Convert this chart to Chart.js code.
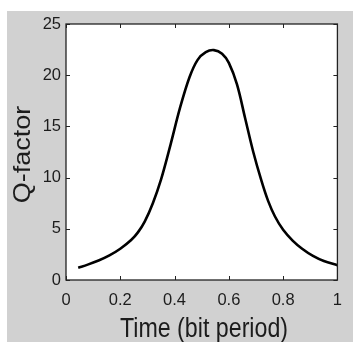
<!DOCTYPE html>
<html>
<head>
<meta charset="utf-8">
<script src="https://cdn.jsdelivr.net/npm/chart.js@4"></script>
<style>
  html, body { margin: 0; padding: 0; background: #fff; }
  #wrap { width: 353px; height: 342px; }
</style>
</head>
<body>
<div id="wrap"><canvas id="myChart" width="353" height="342"></canvas></div>
<script>
// values
const timeValues = [0.045, 0.08, 0.12, 0.16, 0.2, 0.24, 0.265, 0.29, 0.32, 0.35, 0.385, 0.42, 0.455, 0.485,
                    0.515, 0.545, 0.575, 0.6, 0.63, 0.66, 0.69, 0.72, 0.745, 0.77, 0.8, 0.835, 0.87, 0.91, 0.95, 1.0];
const qValues = [1.2, 1.5, 1.9, 2.4, 3.05, 3.9, 4.65, 5.7, 7.5, 9.8, 13.2, 16.8, 19.8, 21.5,
                 22.25, 22.45, 22.1, 21.2, 19.1, 15.8, 12.5, 9.7, 7.7, 6.2, 4.9, 3.85, 3.05, 2.35, 1.85, 1.45];
const xTicks = [0, 0.2, 0.4, 0.6, 0.8, 1];
const yTicks = [0, 5, 10, 15, 20, 25];
const xTitle = 'Time (bit period)';
const yTitle = 'Q-factor';

const figGray = '#d1d1d1';
const ink = '#1c1c1c';

// matlab-like figure: grey panel, white axes box, inward ticks on all sides
const matlabFrame = {
    id: 'matlabFrame',
    beforeDraw(chart) {
        const ctx = chart.ctx;
        const a = chart.chartArea;
        ctx.save();
        ctx.fillStyle = '#fff';
        ctx.fillRect(0, 0, chart.width, chart.height);
        ctx.fillStyle = figGray;
        ctx.fillRect(7, 11, chart.width - 7, chart.height - 11);
        ctx.fillStyle = '#fff';
        ctx.fillRect(a.left, a.top, a.right - a.left, a.bottom - a.top);
        ctx.restore();
    },
    afterDatasetsDraw(chart) {
        const ctx = chart.ctx;
        const a = chart.chartArea;
        const xs = chart.scales.x, ys = chart.scales.y;
        const len = 4;
        ctx.save();
        ctx.strokeStyle = '#222';
        ctx.lineWidth = 1.3;
        ctx.strokeRect(a.left, a.top, a.right - a.left, a.bottom - a.top);
        ctx.lineWidth = 1;
        ctx.beginPath();
        xTicks.forEach(v => {
            const px = Math.round(xs.getPixelForValue(v)) + 0.5;
            ctx.moveTo(px, a.bottom); ctx.lineTo(px, a.bottom - len);
            ctx.moveTo(px, a.top); ctx.lineTo(px, a.top + len);
        });
        yTicks.forEach(v => {
            const py = Math.round(ys.getPixelForValue(v)) + 0.5;
            ctx.moveTo(a.left, py); ctx.lineTo(a.left + len, py);
            ctx.moveTo(a.right, py); ctx.lineTo(a.right - len, py);
        });
        ctx.stroke();

        // axis titles, squeezed sideways like the original
        ctx.fillStyle = ink;
        ctx.font = '27px "Liberation Sans", Arial, sans-serif';
        ctx.textAlign = 'center';
        ctx.textBaseline = 'alphabetic';
        ctx.save();
        ctx.translate(204, 336.5);
        ctx.scale(0.86, 1);
        ctx.fillText(xTitle, 0, 0);
        ctx.restore();

        ctx.save();
        ctx.translate(30, 154.5);
        ctx.rotate(-Math.PI / 2);
        ctx.scale(1, 0.86);
        ctx.fillText(yTitle, 0, 0);
        ctx.restore();
        ctx.restore();
    }
};

const ctx = document.getElementById('myChart').getContext('2d');
new Chart(ctx, {
    type: 'line',
    data: {
        datasets: [{
            data: timeValues.map((t, i) => ({ x: t, y: qValues[i] })),
            borderColor: '#000',
            borderWidth: 2.6,
            pointRadius: 0,
            tension: 0.35,
            fill: false
        }]
    },
    options: {
        responsive: false,
        animation: false,
        layout: { padding: { left: 0, top: 24, right: 8, bottom: 0 } },
        plugins: { legend: { display: false }, tooltip: { enabled: false } },
        scales: {
            x: {
                type: 'linear',
                min: 0, max: 1,
                afterFit: s => { s.height = 62; },
                afterBuildTicks: s => { s.ticks = xTicks.map(v => ({ value: v })); },
                grid: { display: false, drawTicks: false },
                border: { display: false },
                ticks: {
                    padding: 11,
                    color: ink,
                    maxRotation: 0,
                    font: { family: '"Liberation Sans", Arial, sans-serif', size: 16.5 },
                    callback: v => String(parseFloat(v.toFixed(1)))
                }
            },
            y: {
                type: 'linear',
                min: 0, max: 25,
                afterFit: s => { s.width = 66; },
                afterBuildTicks: s => { s.ticks = yTicks.map(v => ({ value: v })); },
                grid: { display: false, drawTicks: false },
                border: { display: false },
                ticks: {
                    padding: 5,
                    color: ink,
                    font: { family: '"Liberation Sans", Arial, sans-serif', size: 16.5 }
                }
            }
        }
    },
    plugins: [matlabFrame]
});
</script>
</body>
</html>
